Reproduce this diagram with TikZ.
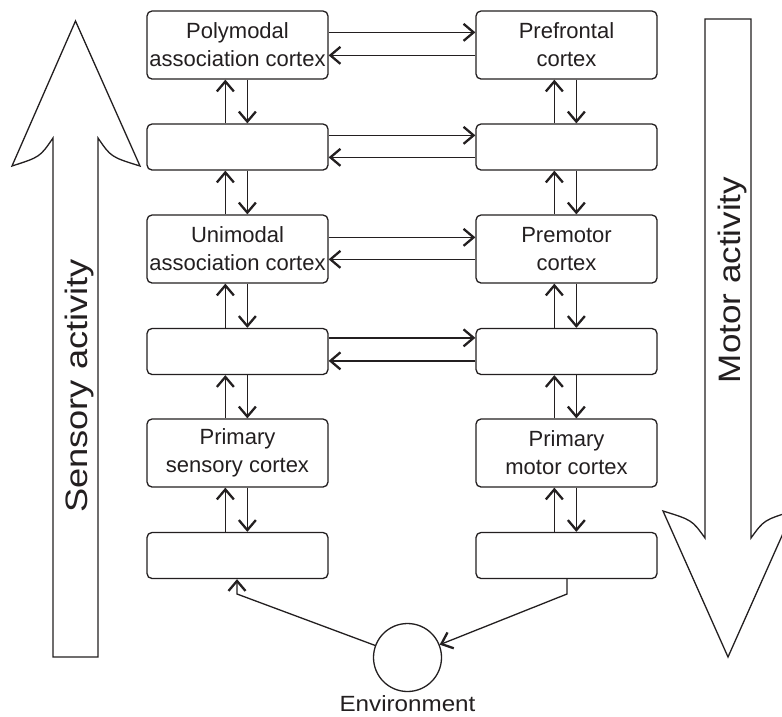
\documentclass[tikz,border=0pt]{standalone}
\usepackage{fontspec}
\setmainfont{Liberation Sans}
\usetikzlibrary{arrows.meta,calc,shapes.geometric}
\definecolor{ink}{HTML}{231F20}
\tikzset{
  box/.style={draw=ink, line width=1.3pt, rounded corners=5pt, minimum width=181pt, minimum height=68pt,
    inner sep=0pt, align=center, text=ink, font=\fontsize{22}{28}\selectfont},
  thin/.style={box, minimum height=46pt},
  arr/.style={draw=ink, line width=1.3pt, -{Straight Barb[length=10pt,width=17pt,line width=2.3pt]}},
  bigarrow/.style={draw=ink, line width=1.3pt, fill=white},
  vlabel/.style={rotate=90, anchor=base, text=ink, font=\fontsize{31}{36}\selectfont}
}
\begin{document}
\begin{tikzpicture}[x=1pt,y=-1pt]
\clip (0,0) rectangle (782,716);
\fill[white] (0,0) rectangle (782,716);
% big arrows
\draw[bigarrow] (53,657) -- (53,138) .. controls (40,157) .. (12,166) -- (75.5,21) -- (140,166) .. controls (111,157) .. (98,138) -- (98,657) -- cycle;
\node[vlabel] (sens) at (87,386) {\scalebox{1.17}[1]{Sensory activity}};
\draw[bigarrow] (705,19) -- (705,538) .. controls (692,520) .. (663,511) -- (728,657) -- (793,511) .. controls (764,520) .. (751,538) -- (751,19) -- cycle;
\node[vlabel] (mot) at (740,280) {\scalebox{1.13}[1]{Motor activity}};
% boxes
\node[box]  (L1) at (237.5,45)   {Polymodal\\association cortex};
\node[thin] (L2) at (237.5,147)  {};
\node[box]  (L3) at (237.5,249)  {Unimodal\\association cortex};
\node[thin] (L4) at (237.5,351.5){};
\node[box]  (L5) at (237.5,453)  {Primary\\sensory cortex};
\node[thin] (L6) at (237.5,555.5){};
\node[box]  (R1) at (566.5,45)   {Prefrontal\\cortex};
\node[thin] (R2) at (566.5,147)  {};
\node[box]  (R3) at (566.5,249)  {Premotor\\cortex};
\node[thin] (R4) at (566.5,351.5){};
\node[box]  (R5) at (566.5,453)  {Primary\\motor cortex};
\node[thin] (R6) at (566.5,555.5){};
% horizontal arrows
\foreach \l/\r/\a/\b in {L1/R1/22/45, L2/R2/12/34, L3/R3/23/45, L4/R4/10/33}{
  \draw[arr] ($(\l.north east)+(0,\a)$) -- ($(\r.north west)+(0,\a)$);
  \draw[arr] ($(\r.north west)+(0,\b)$) -- ($(\l.north east)+(0,\b)$);
}
% vertical arrows
\foreach \u/\d in {L1/L2, L2/L3, L3/L4, L4/L5, L5/L6, R1/R2, R2/R3, R3/R4, R4/R5, R5/R6}{
  \draw[arr] ($(\d.north west)+(79,0)$) -- ($(\u.south west)+(79,0)$);
  \draw[arr] ($(\u.south west)+(101,0)$) -- ($(\d.north west)+(101,0)$);
}
% environment
\node[circle, draw=ink, line width=1.3pt, minimum size=68pt, inner sep=0pt] (env) at (407.5,657.5) {};
\node[anchor=base, text=ink, font=\fontsize{22}{26}\selectfont] (envlabel) at (407.5,711) {\scalebox{1.1}[1]{Environment}};
\coordinate (s1) at (237,594);
\coordinate (m1) at (567,594);
\draw[arr] (env) -- (s1) -- (L6.south -| s1);
\draw[arr] (R6.south -| m1) -- (m1) -- (env);
\end{tikzpicture}
\end{document}
